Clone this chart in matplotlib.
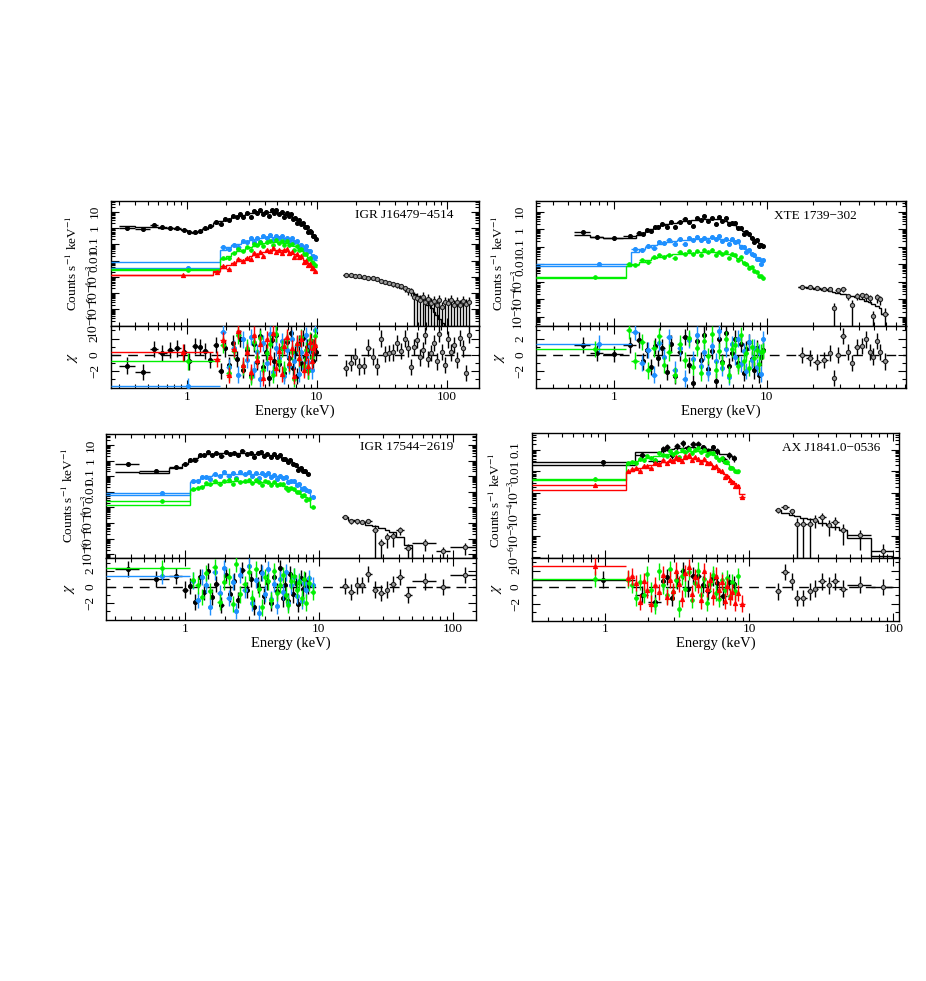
import numpy as np
import matplotlib
matplotlib.use('Agg')
import matplotlib.pyplot as plt
from matplotlib.ticker import LogLocator, NullFormatter, FuncFormatter, FixedLocator

plt.rcParams['font.family'] = ['Liberation Serif', 'DejaVu Serif']
plt.rcParams['mathtext.fontset'] = 'stix'

BLK = '#000000'
BLU = '#1e90ff'
GRN = '#00f000'
RED = '#ff0000'

# ---------------- Panel 1: IGR J16479-4514 ----------------
p1_title = 'IGR J16479\u22124514'
p1_k_edges = [0.3, 0.4, 0.52, 0.6, 0.7, 0.8, 0.9, 1.0, 1.1, 1.2, 1.32, 1.45, 1.6, 1.75, 1.9, 2.05,
              2.2, 2.35, 2.5, 2.65, 2.8, 3.0, 3.2, 3.4, 3.6, 3.8, 4.0, 4.2, 4.4, 4.6, 4.8, 5.0, 5.25,
              5.5, 5.75, 6.0, 6.25, 6.5, 6.75, 7.0, 7.25, 7.5, 7.75, 8.0, 8.25, 8.5, 8.75, 9.0, 9.25,
              9.5, 9.75, 10.0]
p1_k_model = [1.25, 1.2, 1.15, 1.05, 0.95, 0.85, 0.75, 0.6, 0.47, 0.6, 0.9, 1.4, 2.0, 2.6, 3.2, 3.8,
              4.5, 5.2, 5.8, 6.5, 7.3, 8.0, 8.6, 9.0, 9.3, 9.5, 9.6, 9.6, 9.5, 9.3, 9.0, 8.6, 8.0, 7.3,
              6.5, 5.8, 5.2, 4.6, 3.9, 3.2, 2.5, 2.0, 1.6, 1.25, 0.98, 0.78, 0.62, 0.48, 0.36, 0.27, 0.2]
p1_k_chi = [-1.3, -2.1, 0.7, 0.2, 0.6, 0.8, 0.3, -0.8, 1.1, 1.0, 0.5, -0.6, 1.2, -2.0, 0.8, -1.2,
            1.5, -0.5, 2.0, -1.8, 0.6, -2.5, 1.3, -0.9, 2.3, -1.5, 0.4, -2.8, 1.8, -0.7, 2.5, -1.1,
            0.9, -2.2, 1.6, -0.4, 2.7, -1.6, 0.2, -2.6, 1.4, -1.0, 2.1, -0.3, 1.0, -1.9, 0.5, 1.7,
            -0.8, 0.9, 0.3]
p1_k_low = [1.0, 0.85, 1.45]
p1_grid = [1.8, 2.0, 2.2, 2.4, 2.6, 2.8, 3.0, 3.2, 3.4, 3.6, 3.8, 4.0, 4.25, 4.5, 4.75, 5.0, 5.25,
           5.5, 5.75, 6.0, 6.3, 6.6, 6.9, 7.2, 7.5, 7.8, 8.1, 8.4, 8.7, 9.0, 9.3, 9.6, 10.0]
p1_b_model = [0.0079, 0.045, 0.065, 0.085, 0.105, 0.13, 0.155, 0.18, 0.2, 0.22, 0.24, 0.26, 0.27,
              0.28, 0.28, 0.275, 0.27, 0.26, 0.245, 0.23, 0.21, 0.185, 0.16, 0.135, 0.11, 0.09,
              0.07, 0.055, 0.042, 0.031, 0.023, 0.017, 0.011]
p1_b_chi = [-3.8, 2.8, -1.5, 0.8, -2.4, 1.9, -0.6, 2.2, -1.8, 0.4, -2.9, 1.5, -1.0, 2.6, -2.1, 0.9,
            -0.4, 1.7, -2.6, 0.6, -1.3, 2.0, -0.8, 1.2, -2.3, 0.3, -1.6, 2.4, -0.9, 1.1, -1.9, 0.7, 3.0]
p1_g_model = [0.003, 0.012, 0.02, 0.028, 0.037, 0.047, 0.058, 0.07, 0.082, 0.093, 0.105, 0.115,
              0.125, 0.132, 0.137, 0.138, 0.136, 0.132, 0.125, 0.117, 0.105, 0.092, 0.078, 0.064,
              0.051, 0.04, 0.031, 0.023, 0.017, 0.012, 0.0085, 0.006, 0.0038]
p1_g_chi = [-0.8, 1.2, -2.2, 0.5, 2.4, -1.4, 0.9, -2.7, 1.6, -0.3, 2.1, -1.9, 0.2, 1.4, -2.4, 2.6,
            -0.7, 0.8, -1.7, 1.9, -1.1, 0.4, -2.9, 1.3, -0.5, 2.2, -1.3, 0.6, -2.0, 1.8, -0.2, 1.0, 2.3]
p1_r_model = [0.0013, 0.0022, 0.0035, 0.005, 0.0068, 0.009, 0.0115, 0.0145, 0.018, 0.021, 0.025,
              0.029, 0.033, 0.037, 0.04, 0.042, 0.043, 0.043, 0.042, 0.04, 0.037, 0.034, 0.03,
              0.026, 0.022, 0.018, 0.0145, 0.0115, 0.009, 0.007, 0.0053, 0.004, 0.003, 0.0019]
p1_r_chi = [0.3, -0.5, 1.8, -2.5, 0.7, 2.9, -1.2, 0.3, -2.1, 2.5, -0.6, 1.3, -2.8, 1.9, -0.2, 2.7,
            -1.6, 0.5, -2.3, 1.1, 2.2, -1.0, 0.8, -2.6, 1.5, -0.4, 2.0, -1.8, 0.2, -1.4, 1.6, -0.7,
            0.9, 1.2]
p1_h_edges = [16, 17.5, 19, 20.5, 22, 24, 26, 28, 30, 32.5, 35, 37.5, 40, 43, 46, 49, 52, 55, 58,
              61, 64, 67, 70, 74, 78, 82, 86, 90, 95, 100, 106, 112, 118, 124, 130, 137, 144, 152]
p1_h_data = [1.3e-3, 1.25e-3, 1.2e-3, 1.15e-3, 1.0e-3, 9e-4, 8e-4, 7e-4, 5.5e-4, 5e-4, 4.2e-4,
             3.5e-4, 3e-4, 2.6e-4, 2.1e-4, 1.5e-4, 1.3e-4, 6e-5, 5e-5, 4e-5, 5.5e-5, 3e-5, 4.5e-5,
             2.5e-5, 3.5e-5, 2e-5, 4e-5, 1.5e-5, 3e-5, 2.5e-5, 4e-5, 2e-5, 3e-5, 1.8e-5, 3.5e-5,
             2.2e-5, 3e-5]
p1_h_rel = [0.15, 0.15, 0.15, 0.15, 0.18, 0.2, 0.2, 0.22, 0.25, 0.25, 0.28, 0.3, 0.3, 0.35, 0.4,
            0.45, 0.5, 1, 1, 1, 1, 1, 1, 1, 1, 1, 1, 1, 1, 1, 1, 1, 1, 1, 1, 1, 1]
p1_h_model = [1.3e-3, 1.2e-3, 1.1e-3, 1.0e-3, 9e-4, 8e-4, 7e-4, 6e-4, 5.2e-4, 4.5e-4, 3.8e-4,
              3.2e-4, 2.7e-4, 2.2e-4, 1.8e-4, 1.4e-4, 1.1e-4, 8.5e-5, 6.5e-5, 5e-5, 3.8e-5, 2.8e-5,
              1.9e-5, 1.2e-5, 7.5e-6, 4.5e-6, 2.7e-6, 1.5e-6, 8e-7, 4e-7, 2e-7, 1e-7, 5e-8, 2.5e-8,
              1.2e-8, 6e-9, 3e-9]
p1_h_chi = [-1.6, -1.0, -0.2, -1.4, -1.3, 0.9, -0.2, -1.4, 2.0, 0.1, 0.2, 0.3, 1.5, 0.5, 2.0, 0.8,
            -1.5, 1.0, 1.8, -0.3, 0.6, 2.4, -0.5, 0.2, 1.5, -0.8, 2.6, 0.4, -1.2, 1.9, 0.3, 1.2,
            -0.6, 2.1, 0.8, -2.2, 2.5]

# ---------------- Panel 2: XTE 1739-302 ----------------
p2_title = 'XTE 1739\u2212302'
p2_k_edges = [0.55, 0.7, 0.85, 1.15, 1.4, 1.5, 1.6, 1.7, 1.8, 1.9, 2.0, 2.15, 2.3, 2.45, 2.6, 2.8,
              3.0, 3.2, 3.4, 3.6, 3.8, 4.0, 4.25, 4.5, 4.75, 5.0, 5.25, 5.5, 5.75, 6.0, 6.3, 6.6,
              6.9, 7.2, 7.5, 7.8, 8.1, 8.4, 8.7, 9.0, 9.3, 9.6]
p2_k_model = [0.46, 0.36, 0.3, 0.33, 0.5, 0.62, 0.8, 1.0, 1.2, 1.45, 1.7, 1.95, 2.15, 2.35, 2.55,
              2.8, 3.0, 3.3, 3.6, 3.8, 4.0, 4.1, 4.1, 4.0, 3.8, 3.5, 3.1, 2.6, 2.1, 1.7, 1.35, 1.05,
              0.8, 0.6, 0.45, 0.35, 0.27, 0.21, 0.17, 0.13, 0.1]
p2_k_chi = [1.2, 0.2, 0.1, 1.2, 1.8, -0.8, 0.6, -1.5, 1.1, -0.4, 0.9, -2.1, 1.4, -2.6, 0.3, 2.2,
            -1.2, -3.4, 1.7, -0.6, 2.5, -1.7, 0.5, -3.2, 1.9, -0.9, 2.7, -1.4, 0.2, 2.0, -1.0, 1.3,
            -2.2, 0.7, 1.6, -0.5, -1.9, 0.8, -2.5, -0.3, 0.6]
p2_k_low = [0.72]
p2_grid = [1.3, 1.45, 1.6, 1.75, 1.9, 2.05, 2.2, 2.4, 2.6, 2.8, 3.0, 3.2, 3.4, 3.6, 3.8, 4.0, 4.25,
           4.5, 4.75, 5.0, 5.25, 5.5, 5.75, 6.0, 6.3, 6.6, 6.9, 7.2, 7.5, 7.8, 8.1, 8.4, 8.7, 9.0,
           9.3, 9.6]
p2_b_model = [0.0085, 0.05, 0.075, 0.1, 0.125, 0.15, 0.17, 0.19, 0.21, 0.23, 0.245, 0.26, 0.27,
              0.28, 0.29, 0.295, 0.3, 0.3, 0.3, 0.29, 0.28, 0.265, 0.245, 0.22, 0.19, 0.155, 0.12,
              0.093, 0.07, 0.052, 0.04, 0.031, 0.025, 0.02, 0.016, 0.013]
p2_b_chi = [1.4, 2.8, -1.0, 0.6, -2.4, 1.5, -0.3, 2.2, -1.8, 0.9, -2.9, 1.8, -0.5, 2.5, -1.4, 0.4,
            -2.2, 1.1, -0.8, 2.9, -1.6, 0.7, -2.7, 1.3, -0.2, 2.0, -1.1, 0.5, -2.0, 1.6, -0.6, 0.9,
            -1.5, 0.3, -2.3, 1.9]
p2_b_low = [0.011]
p2_g_model = [0.0016, 0.0075, 0.01, 0.014, 0.018, 0.022, 0.026, 0.03, 0.034, 0.037, 0.04, 0.043,
              0.045, 0.047, 0.049, 0.05, 0.051, 0.051, 0.05, 0.049, 0.047, 0.044, 0.041, 0.037,
              0.033, 0.028, 0.023, 0.018, 0.014, 0.0105, 0.008, 0.006, 0.0045, 0.0034, 0.0026,
              0.002, 0.0015]
p2_g_chi = [0.7, 3.0, -0.7, 1.6, -1.9, 0.8, 2.3, -1.2, 0.3, -2.5, 1.4, -0.6, 2.1, -1.5, 0.9, -2.2,
            1.7, -0.1, 2.6, -1.8, 0.5, -1.0, 1.9, -2.4, 0.7, 1.2, -1.3, 2.4, -0.8, 0.2, -1.6, 1.0,
            -0.4, 0.6, -1.1, 0.4, 0.5]
p2_h_edges = [16, 18, 20, 22.5, 25, 26.5, 28, 30, 33, 35, 37, 40, 43, 46, 48, 51, 54, 56, 62]
p2_h_data = [5.2e-4, 4.8e-4, 4.2e-4, 4.0e-4, 3.7e-4, 3e-5, 3.5e-4, 3.7e-4, 1.5e-4, 4.7e-5, 1.6e-4,
             1.7e-4, 1.5e-4, 1.2e-4, 1.1e-5, 1.3e-4, 1e-4, 1.5e-5]
p2_h_rel = [0.15, 0.15, 0.18, 0.2, 0.2, 1, 0.25, 0.3, 0.35, 1, 0.4, 0.4, 0.45, 0.5, 1, 0.5, 0.55, 1]
p2_h_model = [5e-4, 4.4e-4, 3.9e-4, 3.4e-4, 3.0e-4, 2.7e-4, 2.4e-4, 2.1e-4, 1.8e-4, 1.55e-4,
              1.3e-4, 1.05e-4, 8.5e-5, 7e-5, 5.5e-5, 4.2e-5, 3.2e-5, 1.5e-5]
p2_h_chi = [0.0, -0.4, -0.9, -0.6, 0.2, -2.8, 0.0, 2.3, 0.4, -1.0, 1.0, 1.1, 1.9, 0.4, -0.2, 1.7,
            0.4, -0.8]

# ---------------- Panel 3: IGR 17544-2619 ----------------
p3_title = 'IGR 17544\u22122619'
p3_k_edges = [0.3, 0.46, 0.76, 0.95, 1.05, 1.15, 1.25, 1.35, 1.45, 1.55, 1.65, 1.8, 1.95, 2.1, 2.25,
              2.4, 2.6, 2.8, 3.0, 3.2, 3.4, 3.6, 3.8, 4.0, 4.25, 4.5, 4.75, 5.0, 5.25, 5.5, 5.75,
              6.0, 6.3, 6.6, 6.9, 7.2, 7.5, 7.8, 8.1, 8.4]
p3_k_model = [0.19, 0.17, 0.32, 0.6, 1.0, 1.5, 2.0, 2.4, 2.6, 2.7, 2.8, 2.85, 2.9, 2.9, 2.9, 2.9,
              2.9, 2.85, 2.8, 2.75, 2.7, 2.6, 2.5, 2.4, 2.25, 2.1, 1.9, 1.7, 1.5, 1.3, 1.1, 0.88,
              0.66, 0.5, 0.38, 0.3, 0.23, 0.18, 0.14]
p3_k_chi = [2.2, 1.0, 1.4, -0.3, 0.1, -1.8, 1.2, -0.6, 2.0, -1.2, 0.4, -2.2, 1.5, -0.8, 0.7, -1.6,
            2.1, -0.4, 1.0, -2.4, 0.3, 1.8, -1.1, 0.6, -2.0, 1.3, -0.5, 2.3, -1.4, 0.2, -1.7, 1.6,
            -0.9, 0.5, -2.1, 1.1, -0.2, 0.8, 0.1]
p3_k_low = [0.58, 0.22, 0.37]
p3_grid = [1.1, 1.2, 1.3, 1.4, 1.5, 1.6, 1.75, 1.9, 2.05, 2.2, 2.35, 2.5, 2.7, 2.9, 3.1, 3.3, 3.5,
           3.7, 3.9, 4.1, 4.3, 4.55, 4.8, 5.05, 5.3, 5.55, 5.8, 6.1, 6.4, 6.7, 7.0, 7.3, 7.6, 7.9,
           8.2, 8.6, 9.4]
p3_b_model = [0.0063, 0.045, 0.06, 0.075, 0.09, 0.1, 0.11, 0.12, 0.13, 0.135, 0.14, 0.14, 0.14,
              0.14, 0.14, 0.14, 0.14, 0.14, 0.135, 0.13, 0.125, 0.12, 0.11, 0.1, 0.09, 0.08, 0.07,
              0.06, 0.05, 0.042, 0.034, 0.027, 0.021, 0.016, 0.013, 0.01, 0.0045]
p3_b_chi = [1.4, 0.8, -1.6, 1.2, 0.3, -2.4, 1.9, -0.7, 2.3, -1.3, 0.6, -2.9, 1.5, -0.4, 2.6, -1.9,
            0.9, -3.2, 1.7, -0.8, 2.2, -1.5, 0.4, -2.3, 1.0, -0.6, 1.8, -2.0, 0.2, 1.3, -1.1, 0.7,
            -1.7, 0.5, -0.3, 1.1, 0.2]
p3_b_low = [0.0079]
p3_g_model = [0.0014, 0.013, 0.018, 0.023, 0.028, 0.032, 0.036, 0.04, 0.043, 0.045, 0.046, 0.046,
              0.046, 0.045, 0.045, 0.044, 0.044, 0.043, 0.042, 0.041, 0.039, 0.037, 0.034, 0.031,
              0.028, 0.025, 0.022, 0.019, 0.016, 0.013, 0.0105, 0.0085, 0.0068, 0.0054, 0.0043,
              0.0033, 0.0011]
p3_g_chi = [2.4, 0.9, 0.2, -1.2, 1.7, -0.5, 2.5, -1.8, 0.6, 1.3, -2.1, 2.8, -0.9, 0.4, 1.9, -1.4,
            2.2, -0.2, -2.5, 1.2, 0.7, -1.6, 2.0, -0.7, 0.3, 1.5, -1.0, -2.2, 0.8, 1.4, -0.4, 0.6,
            -1.3, 1.0, -1.9, 0.5, -0.6]
p3_g_low = [0.0026]
p3_h_edges = [15, 16.5, 18.5, 20, 22, 25, 27.5, 31, 33.5, 38, 43, 50, 75, 95, 150]
p3_h_data = [2.5e-4, 1.4e-4, 1.3e-4, 1.2e-4, 1.4e-4, 3.5e-5, 5e-6, 1.2e-5, 1.5e-5, 3.6e-5, 2.4e-6,
             5.6e-6, 1.5e-6, 3e-6]
p3_h_rel = [0.2, 0.35, 0.35, 0.3, 0.3, 1, 1, 0.8, 0.8, 0.5, 1, 0.7, 1, 0.7]
p3_h_model = [2.4e-4, 1.6e-4, 1.3e-4, 1.1e-4, 8e-5, 6e-5, 4.5e-5, 3.5e-5, 2.5e-5, 1.2e-5, 4e-6,
              3e-7, 1e-7, 2e-8]
p3_h_chi = [0.1, -0.6, 0.2, 0.3, 1.6, -0.3, -0.7, -0.3, 0.4, 1.2, -1.0, 0.7, 0.0, 1.5]

# ---------------- Panel 4: AX J1841.0-0536 ----------------
p4_title = 'AX J1841.0\u22120536'
p4_k_edges = [0.31, 1.62, 2.0, 2.45, 2.6, 2.8, 3.0, 3.3, 3.6, 3.9, 4.2, 4.6, 5.0, 5.4, 5.8, 6.2,
              7.0, 7.6, 8.1]
p4_k_model = [0.02, 0.085, 0.085, 0.09, 0.1, 0.11, 0.12, 0.13, 0.135, 0.135, 0.13, 0.12, 0.11,
              0.095, 0.08, 0.065, 0.05, 0.038]
p4_k_chi = [0.9, -0.9, -1.8, 0.7, 1.2, -1.3, 0.8, 2.0, -0.2, 1.4, 1.3, 0.3, -0.5, 1.1, 0.5, -1.1,
            0.6, 0.4]
p4_grid = [1.4, 1.5, 1.6, 1.7, 1.8, 1.9, 2.0, 2.15, 2.3, 2.45, 2.6, 2.75, 2.9, 3.05, 3.2, 3.35,
           3.5, 3.7, 3.9, 4.1, 4.3, 4.5, 4.75, 5.0, 5.25, 5.5, 5.75, 6.0, 6.3, 6.6, 6.9, 7.2, 7.5,
           7.8, 8.1, 8.5, 9.3]
p4_g_model = [0.004, 0.022, 0.027, 0.031, 0.035, 0.039, 0.043, 0.047, 0.051, 0.055, 0.059, 0.063,
              0.067, 0.071, 0.075, 0.079, 0.082, 0.086, 0.09, 0.093, 0.094, 0.093, 0.09, 0.085,
              0.078, 0.07, 0.061, 0.052, 0.044, 0.036, 0.029, 0.023, 0.018, 0.014, 0.011, 0.0085]
p4_g_chi = [1.0, 0.9, 0.3, -1.3, 0.6, -0.9, 1.6, -0.4, -2.2, 1.9, 0.2, -1.0, 2.2, -0.6, 0.9, -2.6,
            1.3, -0.2, 1.8, -1.5, 0.5, 2.0, -0.9, 1.0, -1.9, 0.4, 1.5, -0.7, -1.4, 0.8, -0.3, 1.1,
            -1.1, 0.6, -0.5, 1.3]
p4_r_model = [0.0014, 0.009, 0.011, 0.013, 0.015, 0.017, 0.019, 0.021, 0.023, 0.025, 0.027, 0.029,
              0.031, 0.033, 0.035, 0.037, 0.039, 0.04, 0.041, 0.041, 0.04, 0.038, 0.035, 0.031,
              0.027, 0.023, 0.019, 0.015, 0.012, 0.0095, 0.0075, 0.006, 0.0047, 0.0037, 0.003,
              0.0023, 0.0009]
p4_r_chi = [2.5, 1.1, 1.3, 0.5, -1.8, 0.7, -0.3, -2.0, 0.2, -0.6, 1.5, -1.2, 0.9, -0.5, 2.0, 0.4,
            -1.4, 1.7, 2.4, -0.8, 1.2, 0.3, -1.6, 1.9, -0.2, 0.8, -1.1, 1.4, -0.4, 0.6, -1.7, 0.1,
            -1.2, -0.6, -1.9, -0.7, -2.0]
p4_r_low = [0.0024]
p4_h_edges = [15, 16.5, 19, 20.5, 22.5, 25, 27.5, 30, 34, 37, 42, 48, 70, 100]
p4_h_data = [1.6e-4, 2.3e-4, 1.4e-4, 3.5e-5, 3.5e-5, 3.5e-5, 5.6e-5, 7.3e-5, 3.2e-5, 4.6e-5, 1.9e-5,
             1.1e-5, 2e-6]
p4_h_rel = [0.25, 0.25, 0.3, 1, 1, 1, 0.6, 0.6, 0.7, 0.6, 0.8, 0.8, 1]
p4_h_model = [1.6e-4, 1.2e-4, 9.5e-5, 8.5e-5, 6.7e-5, 6e-5, 5.2e-5, 4.2e-5, 3.3e-5, 2.5e-5, 1.9e-5,
              7.7e-6, 1.2e-6]
p4_h_chi = [-0.5, 1.8, 0.7, -1.3, -1.3, -0.5, -0.2, 0.7, 0.2, 0.7, -0.2, 0.3, 0.0]

# ---------------- drawing ----------------
fig = plt.figure(figsize=(9.26, 9.81), dpi=100)


def logfmt(v, pos):
    e = int(round(np.log10(v)))
    if e >= 0:
        return '%d' % (10 ** e)
    if e == -1:
        return '0.1'
    if e == -2:
        return '0.01'
    return r'$10^{%d}$' % e


def setup(rect_m, rect_r, xlim, ylim, title, tx, ty, ylab_xy, chi_xy):
    ax = fig.add_axes(rect_m)
    rax = fig.add_axes(rect_r)
    for a in (ax, rax):
        a.set_xscale('log')
        a.set_xlim(*xlim)
        a.xaxis.set_major_locator(LogLocator(base=10, numticks=10))
        a.xaxis.set_minor_locator(LogLocator(base=10, subs=np.arange(2, 10), numticks=10))
        a.tick_params(which='both', direction='in', top=True, right=True, width=0.8,
                      labelsize=9.5)
        a.tick_params(which='major', length=6)
        a.tick_params(which='minor', length=3)
        a.tick_params(axis='y', labelrotation=90, pad=7)
        a.tick_params(axis='x', pad=2)
        for s in a.spines.values():
            s.set_linewidth(1.0)
    ax.set_yscale('log')
    ax.set_ylim(*ylim)
    ax.yaxis.set_major_locator(LogLocator(base=10, numticks=30))
    ax.yaxis.set_minor_locator(LogLocator(base=10, subs=np.arange(2, 10), numticks=30))
    ax.yaxis.set_minor_formatter(NullFormatter())
    ax.yaxis.set_major_formatter(FuncFormatter(logfmt))
    ax.tick_params(axis='x', which='both', labelbottom=False)
    rax.set_ylim(-4.05, 3.55)
    rax.yaxis.set_major_locator(FixedLocator([-2, 0, 2]))
    rax.yaxis.set_minor_locator(FixedLocator([-3, -1, 1, 3]))
    rax.xaxis.set_major_formatter(FuncFormatter(lambda v, p: '%g' % v))
    rax.xaxis.set_minor_formatter(NullFormatter())
    rax.axhline(0, color='k', lw=1.0, ls=(0, (7, 5)), zorder=1)
    rax.set_xlabel('Energy (keV)', fontsize=10.5, labelpad=1)
    ax.text(tx, ty, title, transform=ax.transAxes, ha='right', va='center', fontsize=9.5)
    fig.text(ylab_xy[0] / 926, 1 - ylab_xy[1] / 981, r'Counts s$^{-1}$ keV$^{-1}$',
             rotation=90, ha='center', va='center', fontsize=9.5)
    fig.text(chi_xy[0] / 926, 1 - chi_xy[1] / 981, r'$\chi$', rotation=90,
             ha='center', va='center', fontsize=11)
    for a in (ax, rax):
        for t in a.yaxis.get_major_ticks():
            t.label1.set_va('center')
    return ax, rax


def draw(ax, rax, edges, model, chi, color, marker, scat=0.15, data=None, low=None, rel=None,
         mfc=None, mec=None, ms=2.8, z=2):
    e = np.asarray(edges, float)
    m = np.asarray(model, float)
    c = np.asarray(chi, float)
    x = 0.5 * (e[:-1] + e[1:])
    xe = 0.5 * (e[1:] - e[:-1])
    if data is None:
        d = m * (1 + c * scat)
        if low is not None:
            d[:len(low)] = low
    else:
        d = np.asarray(data, float)
    r = scat if rel is None else np.asarray(rel, float)
    up = d * r
    lo = np.minimum(d * r, d * 0.9999)
    mfc = color if mfc is None else mfc
    mec = color if mec is None else mec
    ax.stairs(m, e, baseline=None, color=color, lw=1.0, zorder=z)
    kw = dict(fmt=marker, color=color, ecolor=color, elinewidth=1.0, capsize=0, ms=ms,
              mfc=mfc, mec=mec, mew=0.8, zorder=z)
    ax.errorbar(x, d, xerr=xe, yerr=[lo, up], **kw)
    rax.errorbar(x, c, xerr=xe, yerr=1.0, **kw)


HK = dict(mfc='#9a9a9a', mec='#222222', ms=3.0)

# Panel 1
ax, rax = setup([0.1195, 0.6677, 0.3975, 0.1274], [0.1195, 0.6045, 0.3975, 0.0632],
                (0.26, 177), (0.97e-6, 45), p1_title, 0.93, 0.89, (72.5, 263.5), (73, 357))
draw(ax, rax, p1_k_edges, p1_k_model, p1_k_chi, BLK, 'o', low=p1_k_low, z=2)
draw(ax, rax, [0.26] + p1_grid, p1_b_model, p1_b_chi, BLU, 'o', z=3)
draw(ax, rax, [0.26] + p1_grid, p1_g_model, p1_g_chi, GRN, 'o', ms=2.5, z=4)
draw(ax, rax, [0.26, 1.6] + p1_grid, p1_r_model, p1_r_chi, RED, '^', ms=3.0, z=5)
draw(ax, rax, p1_h_edges, p1_h_model, p1_h_chi, BLK, 'o', data=p1_h_data, rel=p1_h_rel, **HK)

# Panel 2
ax, rax = setup([0.5788, 0.6677, 0.3996, 0.1274], [0.5788, 0.6045, 0.3996, 0.0632],
                (0.31, 81), (3e-6, 41), p2_title, 0.867, 0.88, (498, 263), (500, 357))
draw(ax, rax, p2_k_edges, p2_k_model, p2_k_chi, BLK, 'o', low=p2_k_low, z=2)
draw(ax, rax, [0.31] + p2_grid, p2_b_model, p2_b_chi, BLU, 'o', low=p2_b_low, z=3)
draw(ax, rax, [0.31, 1.2] + p2_grid, p2_g_model, p2_g_chi, GRN, 'o', ms=2.5, z=4)
draw(ax, rax, p2_h_edges, p2_h_model, p2_h_chi, BLK, 'o', data=p2_h_data, rel=p2_h_rel, **HK)

# Panel 3
ax, rax = setup([0.1145, 0.4309, 0.3995, 0.1267], [0.1145, 0.368, 0.3995, 0.0629],
                (0.259, 149), (5.5e-7, 50), p3_title, 0.938, 0.893, (68, 495), (70, 588))
draw(ax, rax, p3_k_edges, p3_k_model, p3_k_chi, BLK, 'o', low=p3_k_low, z=2)
draw(ax, rax, [0.26] + p3_grid, p3_b_model, p3_b_chi, BLU, 'o', low=p3_b_low, z=3)
draw(ax, rax, [0.26] + p3_grid, p3_g_model, p3_g_chi, GRN, 'o', low=p3_g_low, ms=2.5, z=4)
draw(ax, rax, p3_h_edges, p3_h_model, p3_h_chi, BLK, 'o', data=p3_h_data, rel=p3_h_rel, **HK)

# Panel 4
ax, rax = setup([0.5742, 0.4315, 0.397, 0.1268], [0.5742, 0.3673, 0.397, 0.0642],
                (0.31, 110), (0.97e-6, 0.6), p4_title, 0.947, 0.88, (495, 500), (497, 588))
draw(ax, rax, p4_k_edges, p4_k_model, p4_k_chi, BLK, 'o', scat=0.35, z=2)
draw(ax, rax, [0.31] + p4_grid[:-1], p4_g_model, p4_g_chi, GRN, 'o', ms=2.5, z=4)
draw(ax, rax, [0.31] + p4_grid, p4_r_model, p4_r_chi, RED, '^', low=p4_r_low, ms=3.0, z=5)
draw(ax, rax, p4_h_edges, p4_h_model, p4_h_chi, BLK, 'o', data=p4_h_data, rel=p4_h_rel, **HK)

fig.savefig('out.png', dpi=100)
